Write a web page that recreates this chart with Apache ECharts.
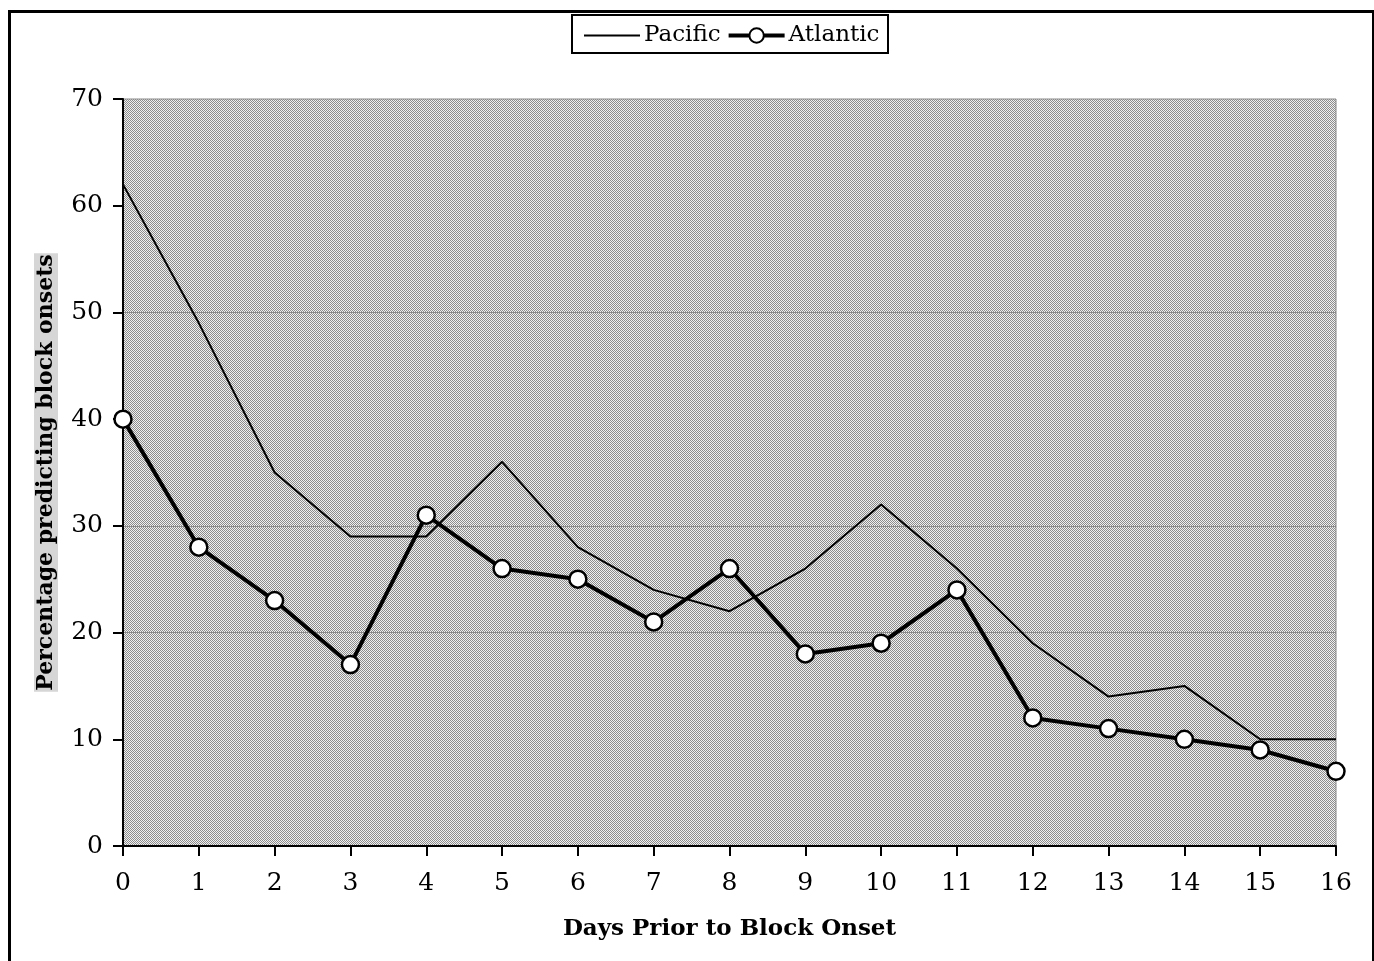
<!DOCTYPE html>
<html>
<head>
<meta charset="utf-8">
<script src="https://cdn.jsdelivr.net/npm/echarts@6/dist/echarts.min.js"></script>
<style>
html,body{margin:0;padding:0;background:#fff;}
#chart{width:1374px;height:961px;}
</style>
</head>
<body>
<div id="chart"></div>
<script>
const days = ['0','1','2','3','4','5','6','7','8','9','10','11','12','13','14','15','16'];
const pacific = [62, 49, 35, 29, 29, 36, 28, 24, 22, 26, 32, 26, 19, 14, 15, 10, 10];
const atlantic = [40, 28, 23, 17, 31, 26, 25, 21, 26, 18, 19, 24, 12, 11, 10, 9, 7];
const yTicks = [0, 10, 20, 30, 40, 50, 60, 70];

function makePattern(){
  const c = document.createElement('canvas');
  c.width = 2; c.height = 2;
  const ctx = c.getContext('2d');
  ctx.fillStyle = '#f0f0f0'; ctx.fillRect(0,0,2,2);
  ctx.fillStyle = '#8c8c8c';
  ctx.fillRect(0,0,1,1); ctx.fillRect(1,1,1,1);
  return {image: c, repeat: 'repeat'};
}
const pat = makePattern();
const serif = '"DejaVu Serif", "Liberation Serif", serif';

const chart = echarts.init(document.getElementById('chart'), null, {renderer:'canvas'});
chart.setOption({
  backgroundColor: '#fff',
  animation: false,
  graphic: [
    {type:'rect', left: 7, top: 9, shape:{x:0,y:0,width:1364,height:960}, style:{fill:'none', stroke:'#000', lineWidth:3}, z:-1},
    {type:'rect', left: 571, top: 14, shape:{x:0,y:0,width:316,height:38}, style:{fill:'#fff', stroke:'#000', lineWidth:2}, z:0}
  ],
  grid: {left:123, right:38, top:99, bottom:115, show:true, backgroundColor: pat, borderColor:'#888', borderWidth:1},
  legend: {
    top: 19, left: 578, itemGap: 6, itemWidth: 56, itemHeight: 18,
    textStyle: {fontFamily: serif, fontSize: 23, color:'#000', padding:[0,0,0,-1]},
    z: 5,
    data: [
      {name:'Pacific', lineStyle:{width:2}, itemStyle:{opacity:0}},
      {name:'Atlantic', lineStyle:{width:4}}
    ]
  },
  xAxis: {
    type:'category', data: days, boundaryGap:false,
    name:'Days Prior to Block Onset', nameLocation:'middle', nameGap:72,
    nameTextStyle:{fontFamily: serif, fontWeight:'bold', fontSize:23, color:'#000'},
    axisLine:{lineStyle:{color:'#000', width:2}},
    axisTick:{show:true, length:10, lineStyle:{color:'#000', width:2}},
    axisLabel:{fontFamily: serif, fontSize:25, color:'#000', margin:25},
    splitLine:{show:false}
  },
  yAxis: {
    type:'value', min:0, max:70, interval:10,
    name:'Percentage predicting block onsets', nameLocation:'middle', nameGap:65,
    nameTextStyle:{fontFamily: serif, fontWeight:'bold', fontSize:22, color:'#000', backgroundColor:'#d6d6d6', padding:[1,1,1,1]},
    axisLine:{show:true, lineStyle:{color:'#000', width:2}},
    axisTick:{show:true, length:10, lineStyle:{color:'#000', width:2}},
    axisLabel:{fontFamily: serif, fontSize:25, color:'#000', margin:20,
      formatter: v => yTicks.includes(v) ? String(v) : ''},
    splitLine:{show:true, lineStyle:{color:'#8a8a8a', width:1, type:'dotted'}}
  },
  series: [
    {name:'Pacific', type:'line', data: pacific, symbol:'none', showSymbol:false,
     lineStyle:{color:'#000', width:2}, itemStyle:{color:'#000'}, z:2},
    {name:'Atlantic', type:'line', data: atlantic, symbol:'circle', symbolSize:17,
     lineStyle:{color:'#000', width:4}, itemStyle:{color:'#fff', borderColor:'#000', borderWidth:2.5}, z:3}
  ]
});
</script>
</body>
</html>
